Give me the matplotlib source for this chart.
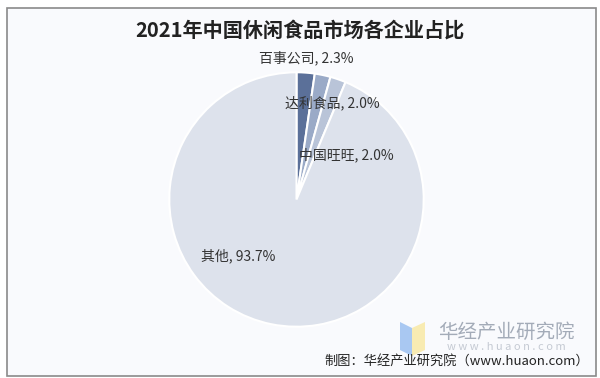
import matplotlib.pyplot as plt
from matplotlib.patches import Rectangle, Polygon

plt.rcParams['font.family'] = ['Noto Sans CJK SC', 'DejaVu Sans']

# Data
companies = ['百事公司', '达利食品', '中国旺旺', '其他']
shares = [2.3, 2.0, 2.0, 93.7]
colors = ['#5b7099', '#9aaac7', '#b9c4d8', '#dde2ec']
label_pos = [(0.074, 1.11), (0.284, 0.755), (0.393, 0.35), (-0.455, -0.444)]

fig = plt.figure(figsize=(6, 3.78), dpi=100)
fig.patch.set_facecolor('white')

# Frame with light background
fig.patches.append(Rectangle((7 / 600, 2 / 378), 589 / 600, 368 / 378,
                             transform=fig.transFigure, facecolor='#f9fafd',
                             edgecolor='#8a8a8a', linewidth=1.2, zorder=-1))

ax = fig.add_axes([168 / 600, 1 - 328 / 378, 257 / 600, 257 / 378])
ax.pie(shares, colors=colors, startangle=90, counterclock=False,
       wedgeprops=dict(edgecolor='white', linewidth=1.5))
ax.set_xlim(-1.01, 1.01)
ax.set_ylim(-1.01, 1.01)
ax.set_facecolor('none')

for name, val, (x, y) in zip(companies, shares, label_pos):
    ax.text(x, y, f'{name}, {val:.1f}%', ha='center', va='center',
            fontsize=10, color='#333333', clip_on=False)

fig.text(0.5, 1 - 30 / 378, '2021年中国休闲食品市场各企业占比', ha='center', va='center',
         fontsize=14.5, fontweight='bold', color='#222222')

# Watermark logo
fig.patches.append(Polygon([(400 / 600, 1 - 322 / 378), (412 / 600, 1 - 328 / 378),
                            (412 / 600, 1 - 356 / 378), (400 / 600, 1 - 350 / 378)],
                           closed=True, transform=fig.transFigure,
                           facecolor='#a9c8f2', edgecolor='none', zorder=3))
fig.patches.append(Polygon([(412 / 600, 1 - 328 / 378), (425 / 600, 1 - 322 / 378),
                            (425 / 600, 1 - 350 / 378), (412 / 600, 1 - 356 / 378)],
                           closed=True, transform=fig.transFigure,
                           facecolor='#f8ebb2', edgecolor='none', zorder=3))
fig.text(506 / 600, 1 - 332 / 378, '华经产业研究院', ha='center', va='center',
         fontsize=14, color='#a3abb8')
fig.text(506 / 600, 1 - 347 / 378, 'w w w . h u a o n . c o m', ha='center', va='center',
         fontsize=8, color='#c5cad3')

fig.text(589 / 600, 1 - 361 / 378, '制图：华经产业研究院（www.huaon.com）', ha='right',
         va='center', fontsize=9.5, color='#222222')

fig.savefig('out.png', dpi=100)
